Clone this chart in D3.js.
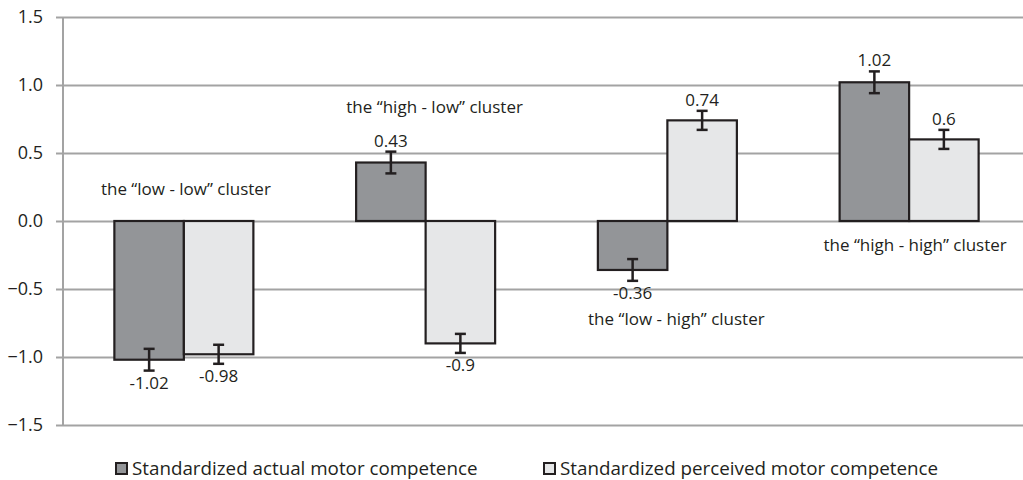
<!DOCTYPE html>
<html><head><meta charset="utf-8"><script src="https://cdn.jsdelivr.net/npm/d3@7"></script>
<style>body{margin:0;background:#fff}text{font-family:"Open Sans",sans-serif;fill:#231f20}</style></head>
<body>
<svg id="s" width="1023" height="480"></svg>
<script>
// ---- data ----
const categories = ["low-low", "high-low", "low-high", "high-high"];
const seriesNames = ["Standardized actual motor competence", "Standardized perceived motor competence"];
const actual = [-1.02, 0.43, -0.36, 1.02];
const perceived = [-0.98, -0.9, 0.74, 0.6];
const actualErr = [0.08, 0.08, 0.08, 0.08];
const perceivedErr = [0.07, 0.07, 0.07, 0.07];
const clusterLabels = ["the \u201Clow - low\u201D cluster", "the \u201Chigh - low\u201D cluster", "the \u201Clow - high\u201D cluster", "the \u201Chigh - high\u201D cluster"];
const clusterLabelY = [0.235, 0.84, -0.72, -0.18];
const yTicks = [-1.5, -1.0, -0.5, 0.0, 0.5, 1.0, 1.5];

// ---- layout ----
const W = 1023, H = 480;
const plotLeft = 63, plotRight = 1030, plotTop = 17, plotBottom = 425;
const colors = ["#939598", "#e6e7e8"];
const ink = "#231f20";
const clusterDx = [2, 9, 9, 6];

const svg = d3.select("#s");
const y = d3.scaleLinear().domain([-1.5, 1.5]).range([plotBottom, plotTop]);
const x0 = d3.scaleBand().domain(categories).range([plotLeft, plotRight]).paddingInner(0.425).paddingOuter(0.2125);
const x1 = d3.scaleBand().domain([0, 1]).range([0, x0.bandwidth()]);

// gridlines + tick labels via axis
const yAxis = d3.axisLeft(y).tickValues(yTicks).tickFormat(d3.format(".1f")).tickSize(-(W - plotLeft)).tickPadding(20);
const gA = svg.append("g").attr("transform", `translate(${plotLeft},0)`).call(yAxis);
gA.select(".domain").remove();
gA.selectAll(".tick line").attr("x1", -7).attr("stroke", "#a3a3a3").attr("stroke-width", 2);
gA.selectAll(".tick text").style("font-family", '"Open Sans",sans-serif').attr("font-size", 18).attr("fill", ink).attr("dy", "0.33em");
// vertical axis line
svg.append("line").attr("x1", plotLeft).attr("x2", plotLeft).attr("y1", y(1.5)).attr("y2", y(-1.5)).attr("stroke", "#a3a3a3").attr("stroke-width", 2);

const series = [
  {vals: actual, err: actualErr},
  {vals: perceived, err: perceivedErr}
];

series.forEach((s, si) => {
  const g = svg.append("g");
  const data = categories.map((c, i) => ({c, v: s.vals[i], e: s.err[i]}));
  g.selectAll("rect").data(data).join("rect")
    .attr("x", d => x0(d.c) + x1(si))
    .attr("width", x1.bandwidth())
    .attr("y", d => y(Math.max(0, d.v)))
    .attr("height", d => Math.abs(y(d.v) - y(0)))
    .attr("fill", colors[si]).attr("stroke", ink).attr("stroke-width", 2.2);
  const cx = d => x0(d.c) + x1(si) + x1.bandwidth() / 2;
  const eg = g.selectAll("g.err").data(data).join("g").attr("class", "err");
  eg.append("line").attr("x1", cx).attr("x2", cx).attr("y1", d => y(d.v - d.e)).attr("y2", d => y(d.v + d.e)).attr("stroke", ink).attr("stroke-width", 2.5);
  eg.append("line").attr("x1", d => cx(d) - 5.5).attr("x2", d => cx(d) + 5.5).attr("y1", d => y(d.v + d.e)).attr("y2", d => y(d.v + d.e)).attr("stroke", ink).attr("stroke-width", 2.5);
  eg.append("line").attr("x1", d => cx(d) - 5.5).attr("x2", d => cx(d) + 5.5).attr("y1", d => y(d.v - d.e)).attr("y2", d => y(d.v - d.e)).attr("stroke", ink).attr("stroke-width", 2.5);
  g.selectAll("text.val").data(data).join("text").attr("class", "val")
    .attr("x", cx)
    .attr("y", d => d.v >= 0 ? y(d.v + d.e) - 5 : y(d.v - d.e) + 18)
    .attr("text-anchor", "middle").attr("font-size", 17)
    .text(d => String(d.v));
});

// cluster annotations
svg.append("g").selectAll("text").data(categories).join("text")
  .attr("x", (c, i) => x0(c) + x0.bandwidth() / 2 + clusterDx[i])
  .attr("y", (c, i) => y(clusterLabelY[i]))
  .attr("dy", "0.35em").attr("text-anchor", "middle").attr("font-size", 17)
  .text((c, i) => clusterLabels[i]);

// legend
const legendX = [115, 543];
const lg = svg.append("g").selectAll("g").data(seriesNames).join("g")
  .attr("transform", (d, i) => `translate(${legendX[i]},468)`);
lg.append("rect").attr("x", 1).attr("y", -5).attr("width", 11).attr("height", 11)
  .attr("fill", (d, i) => colors[i]).attr("stroke", ink).attr("stroke-width", 2);
lg.append("text").attr("x", 17).attr("dy", "0.35em").attr("font-size", 18.8).text(d => d);
</script></body></html>
